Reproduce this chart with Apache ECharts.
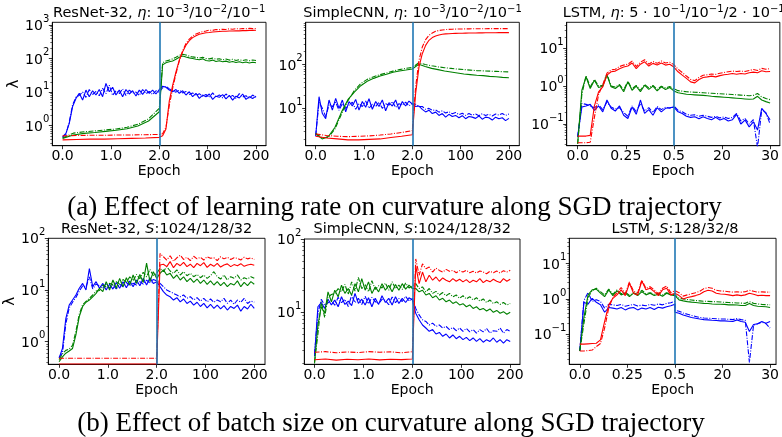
<!DOCTYPE html>
<html><head><meta charset="utf-8">
<script src="https://cdn.jsdelivr.net/npm/echarts@6/dist/echarts.min.js"></script>
<style>html,body{margin:0;padding:0;background:#fff}#c{width:782px;height:437px}</style>
</head><body><div id="c"></div>
<script>
// ---------- tick labels ----------
const cnnXTicks = ['0.0','1.0','2.0','100','200'];
const lstmXTicks = ['0.0','0.25','0.5','20','30'];
const panelTitles = [
  'ResNet-32, {i|η}: 10{s|−3}/10{s|−2}/10{s|−1}',
  'SimpleCNN, {i|η}: 10{s|−3}/10{s|−2}/10{s|−1}',
  'LSTM, {i|η}: 5 · 10{s|−1}/10{s|−1}/2 · 10{s|−1}',
  'ResNet-32, {i|S}:1024/128/32',
  'SimpleCNN, {i|S}:1024/128/32',
  'LSTM, {i|S}:128/32/8'
];
const captionA = '(a) Effect of learning rate on curvature along SGD trajectory';
const captionB = '(b) Effect of batch size on curvature along SGD trajectory';

// ---------- data: each series = [first-phase values, second-phase values] ----------
// Panel 1: ResNet-32, learning rate
const p1BlueS = [[0.47,0.59,1.17,3.7,6.5,9.2,5.8,11.5,7.3,11,8.2,12,7.3,18.3,10.3,14,8.2,11.5,7.3,12,8.8,11,7.7,11.5,8.6,12,9.2,11.5,8.8,12],
 [12,15,14,11.5,10.3,12,9.2,11,8.2,10.3,7.3,9.2,6.5,8.2,7.3,8.8,6.1,7.6,7,8.4,6.3,8,5.8,7.6,6.7,8.8,6.1,7.3,6.5,7.6]];
const p1BlueD = [[0.45,0.55,1.3,4.2,7,8,10,7,12,8.5,10.5,7.8,13,9,16,8,11,9,12.5,8,11.5,9.5,10,8,12,9,10.5,8.5,11,10],
 [10,13.5,15,12.5,11,10,11.5,9.5,10.5,8.5,9.5,8,9,7.5,8.5,7,9.5,7.2,8.3,6.8,8.8,7,8,6.5,9,7.2,7.8,6.6,8.2,7]];
const p1GreenS = [[0.42,0.53,0.59,0.63,0.68,0.73,0.81,0.98,1.38,2.6],
 [2.6,65,75,80,85,95,110,120,112,105,100,95,92,98,88,85,90,82,86,80,84,78,82,76,80,75,79,74,78,75]];
const p1GreenD = [[0.43,0.6,0.66,0.7,0.75,0.8,0.9,1.1,1.6,3.3],
 [3.3,75,85,90,98,110,125,135,128,118,112,108,104,110,100,98,103,95,99,92,97,90,95,88,93,87,92,86,91,88]];
const p1RedS = [[0.38,0.39,0.4,0.4,0.41,0.42,0.43,0.45],
 [0.45,0.5,0.8,5.5,16,40,90,160,250,340,420,480,530,560,590,600,620,630,640,650,650,660,660,670,670,680,680,690,690,700]];
const p1RedD = [[0.5,0.51,0.52,0.52,0.53,0.53,0.54,0.55],
 [0.55,0.58,0.9,4,13,35,85,170,280,380,470,540,590,630,660,700,690,730,720,750,735,770,750,780,760,790,770,800,780,790]];

// Panel 2: SimpleCNN, learning rate
const p2BlueS = [[2.3,18.5,7.6,5.8,15.5,9.1,16.9,10,15.5,8.3,14.3,11.3,16,9.1,14.3,10.6,16.6,9.5,14.3,11,15.5,8.8,13.5,11.3,15.5,9.5,14.3,11.3,14.7,12.6],
 [12.6,11,11.3,9.5,8.3,9.1,7.6,8.2,6.9,7.6,6.3,7.3,6.5,6.9,6.1,6.8,5.8,6.5,6.3,5.9,6.7,5.65,6.3,6.1,5.4,6.3,5.8,6.1,5.25,5.9]];
const p2BlueD = [[2.4,13.8,10,6.5,11.9,11,13.8,9,12.8,10,11.9,13.8,9.5,12.8,11,14.7,10,12.4,11,13.8,10,12.8,11.9,14.3,10.5,12.8,11.9,13.8,11.4,12.8],
 [12.8,12.4,11,11,9.5,10,9,9.2,8.2,8.8,7.8,8.4,7.5,8,7.2,7.7,6.9,7.6,7,7.4,6.8,7.5,6.9,7.3,6.7,7.4,7,7.6,6.9,7.4]];
const p2GreenS = [[2.6,2.0,2.3,3.7,8.2,15.8,23.6,33,41.5,48.5,54.8,60,66.7,71.5,75.2,79.3],
 [79.3,102,91,82,77,71.5,67.8,64.3,61,59,57,56,54,53,51,50]];
const p2GreenD = [[2.7,2.1,2.2,3.4,7.4,15,25.5,37,46,53,59,64.5,71,77,82,86],
 [86,110,101,94,89,85,82,79,77,75,73,72,71,70,69,68]];
const p2RedS = [[2.3,2.1,2.0,1.9,1.9,1.95,2.0,2.15,2.3,2.5],
 [2.5,22,88,178,276,360,415,452,478,496,505,510,515,518,520,522,525,527,528,530,532,533,534,535,536,537,538,539,540,540]];
const p2RedD = [[2.6,2.4,2.3,2.25,2.3,2.35,2.45,2.6,2.8,3.1],
 [3.1,31,125,253,373,468,528,578,605,620,632,640,645,650,652,655,657,658,660,661,662,663,664,665,665,666,666,667,667,667]];

// Panel 3: LSTM, learning rate
const p3RedS = [[0.048,0.048,0.048,0.05,0.3,0.71,0.96,1.95,2.4,2.5,2.9,3.2,3.4,4.1,2.9,3.8,4.4,3.4,4.0,3.6,4.1,3.6,3.8,3.2],
 [3.2,2.4,1.95,1.6,1.3,1.22,1.5,1.7,1.76,1.84,1.76,1.9,2.0,2.07,2.16,2.07,2.16,2.1,2.25,2.35,2.25,2.54,2.4,2.45]];
const p3RedD = [[0.032,0.032,0.032,0.033,0.15,0.6,1.1,2.2,2.7,2.8,3.3,3.6,3.8,4.6,3.3,4.3,5.0,3.8,4.5,4.0,4.6,4.1,4.3,3.7],
 [3.7,2.8,2.3,1.85,1.5,1.4,1.7,1.95,2.0,2.1,2.05,2.2,2.3,2.4,2.5,2.45,2.5,2.45,2.6,2.75,2.6,2.95,2.8,2.9]];
const p3GreenS = [[0.03,0.78,1.76,0.87,1.44,0.92,1.0,1.95,0.96,0.87,1.06,0.71,1.3,0.78,1.0,0.71,1.06,0.82,1.0,0.75,0.96,0.82,0.92,0.75],
 [0.75,0.67,0.64,0.61,0.6,0.59,0.58,0.57,0.56,0.54,0.53,0.52,0.51,0.5,0.49,0.48,0.47,0.46,0.45,0.46,0.54,0.43,0.39,0.36]];
const p3GreenD = [[0.03,0.6,1.9,0.95,1.5,1.0,1.05,2.1,1.0,0.95,1.1,0.8,1.35,0.85,1.05,0.78,1.1,0.9,1.05,0.82,1.0,0.9,0.98,0.85],
 [0.85,0.76,0.74,0.71,0.7,0.69,0.68,0.67,0.66,0.65,0.64,0.63,0.62,0.61,0.6,0.59,0.58,0.57,0.56,0.57,0.64,0.52,0.47,0.44]];
const p3BlueS = [[0.048,0.28,0.3,0.33,0.23,0.3,0.21,0.43,0.26,0.22,0.3,0.17,0.14,0.28,0.18,0.43,0.19,0.24,0.17,0.27,0.21,0.26,0.27,0.28],
 [0.28,0.21,0.19,0.16,0.15,0.155,0.137,0.155,0.14,0.13,0.15,0.127,0.14,0.12,0.13,0.18,0.1,0.127,0.084,0.114,0.069,0.26,0.19,0.13]];
const p3BlueD = [[0.045,0.35,0.33,0.3,0.27,0.32,0.24,0.38,0.28,0.25,0.27,0.2,0.16,0.3,0.21,0.35,0.22,0.27,0.2,0.29,0.24,0.28,0.26,0.3],
 [0.3,0.23,0.21,0.18,0.17,0.175,0.16,0.17,0.16,0.15,0.16,0.145,0.155,0.14,0.15,0.19,0.12,0.14,0.1,0.13,0.024,0.24,0.2,0.1]];

// Panel 4: ResNet-32, batch size
const p4BlueS = [[0.48,0.74,2.8,5.1,6.4,8,10.8,13.4,10,26,11.6,14.5,10.8,13.4,10,12.9,10.4,14,10.8,14.5,11.1,14.9,11.6,15.6,12.1,16.8,12.5,17.3,13.4,14.5],
 [14.5,11.6,9.3,8,7.4,6.4,7.1,5.9,6.7,5.5,6.1,5.1,5.8,4.8,5.5,4.5,5.3,4.4,5.1,4.3,5.0,4.1,4.8,4.4,5.1,3.9,4.8,4.3,5.3,4.4]];
const p4BlueD = [[0.5,0.6,2.2,4.5,5.8,7.2,9.5,12,11.5,18,10.5,13,12,11,13.5,11,12.5,10.5,13,11.5,14,12,13.5,12.5,14.5,13,15.5,13.5,16,15],
 [15,13.4,11.6,10,9.3,8.6,8,7.4,8,6.9,7.4,6.4,7.1,6.1,6.9,5.9,6.7,5.8,6.4,5.9,6.9,5.5,6.4,5.3,6.4,5.8,6.9,5.5,6.1,5.8]];
const p4GreenS = [[0.41,0.51,0.6,0.66,0.74,1.35,3.05,4.8,5.8,6.4,7.4,8.6,10.8,9.3,14.5,10,15.6,10.8,16.8,11.6,17.3,12.5,19.5,13.4,20,14,33,14.5,22.6,16.8],
 [16.8,21,24.5,19.5,21,16.8,19.5,15.6,18,14.5,16.8,14,16.3,13.4,15.6,12.9,15,12.5,14.5,12.1,14,11.6,13.4,12.5,15,11.6,14,12.1,14.5,12.9]];
const p4GreenD = [[0.45,0.58,0.68,0.72,0.85,1.6,3.4,5.2,6.0,6.9,8.0,9.5,9.8,12.5,11.5,13.5,12.5,14.5,13,16,14,18,15,20,16.5,22,18,25,19,21],
 [21,26.2,22.6,28.3,23.3,21,24.5,19.5,22.6,18.9,21,18.1,20,17.3,19.5,16.8,18.9,22.6,18.1,16.3,19.5,15.6,18.1,16.8,19.5,15.6,17.3,16.3,18.1,16.8]];
const p4RedS = [[0.37,0.37,0.37,0.37,0.37],
 [0.37,30.5,31.5,28.3,35.4,27,32.8,29.5,34.3,28.3,31.5,27,32.8,29.5,33.8,27.4,31.5,28.7,32.8,27.8,30.5,32,28.3,31,29.5,32.3,28.7,30.5,31.5,30]];
const p4RedD = [[0.48,0.48,0.48,0.48,0.48],
 [0.48,51,44,38,46,36,42,47,39,43,37,45,40,43,38,44,41,42,37,44,40,43,39,42,41,38,43,40,42,39]];

// Panel 5: SimpleCNN, batch size
const p5BlueS = [[2.5,11.9,13.6,11.3,15.1,12.6,14.7,11.9,16.3,12.8,14.2,12.3,18.1,13.2,15.1,12.6,15.8,11.9,15.5,12.8,16.8,13.6,15.5,12.6,16.3,13.2,15.5,13.6,15.8,14.7],
 [14.7,9.7,7.9,6.7,6.1,5.5,5.8,5.05,5.3,4.7,5.05,4.46,4.9,4.36,4.7,4.23,4.55,4.1,4.46,4.0,4.36,3.9,4.23,4.0,4.46,3.9,4.23,3.8,4.23,4.0]];
const p5BlueD = [[2.7,9.5,15,12.5,13.5,14.5,12.5,16,13.5,15,12,17,13.5,15.5,12.8,16.5,13,16,14,13,15,14.5,12.7,16.2,13.5,15.5,14,16.5,14.2,15.5],
 [15.5,11.3,9.2,7.9,7.5,6.7,7.1,6.4,6.7,6.1,6.4,5.8,6.2,5.6,6.1,5.5,6.0,5.4,5.8,5.2,5.8,5.4,6.0,5.2,5.6,5.5,6.1,5.2,5.8,5.5]];
const p5GreenS = [[2.0,6.7,11.9,9.7,19,13.9,20,16.3,23.4,18.1,21.1,17.1,24.6,19,28.8,20,26,18.1,22.2,19,24.6,20,23.4,19,24,20,24.6,20.7,23.4,21.1],
 [21.1,21.1,19,20,17.2,18.1,15.8,16.8,14.7,15.5,13.9,14.7,13.2,13.9,12.6,13.1,11.9,12.6,11.3,11.9,10.8,11.3,10.4,11.1,10,10.6,9.7,10.2,9.4,10]];
const p5GreenD = [[2.1,5,14,8.5,16,17.5,18,21,19,24,17.5,26,19.5,30,21,24,19,27,20.5,23,21.5,25,20,26,21,23.5,20.5,25,21.5,23],
 [23,24.6,21.1,22.2,19,21.1,18.1,19.3,17.2,18.6,16.8,18.1,16.3,17.2,15.5,16.8,15.2,16.3,14.7,15.8,14.2,15.2,13.6,14.7,13.2,13.9,12.8,13.6,12.6,13.2]];
const p5RedS = [[2.25,2.3,2.22,2.28,2.25,2.3,2.24,2.28,2.26,2.3],
 [2.3,43,24.6,35.4,26,32,27.4,30.3,26.5,29.4,27.4,26,28.8,26.5,28.2,26,27.9,25.4,27.4,26,28.8,25.4,27.4,26,28.2,26.5,25.4,28.8,26.5,28.2]];
const p5RedD = [[2.85,2.9,2.8,2.88,2.82,2.9,2.85,2.88,2.8,2.9],
 [2.9,53.5,32,45.8,39.3,41.4,35.4,40,37.3,35.4,38.5,36.2,37.4,34.7,37,35.4,37.4,34.7,36.2,34.3,36.6,35.4,33.6,36.2,34.7,36.6,34.3,37,35.4,37.4]];

// Panel 6: LSTM, batch size
const p6RedS = [[0.053,0.053,0.054,0.055,0.056,0.07,0.23,0.68,1.04,1.3,1.8,1.24,2.76,1.45,1.3,3.2,1.8,2.0,1.6,1.24,1.8,2.0,1.3,1.45],
 [1.45,1.24,1.0,1.09,1.16,1.24,1.35,1.6,1.75,1.68,1.45,1.38,1.35,1.3,1.24,1.3,1.24,1.3,1.45,1.35,1.24,1.27,1.24,1.24]];
const p6RedD = [[0.034,0.034,0.035,0.036,0.045,0.055,0.15,0.55,1.1,1.5,2.1,1.4,3.0,1.65,1.5,3.4,2.0,2.2,1.8,1.4,2.0,2.3,1.5,1.7],
 [1.7,1.5,1.2,1.3,1.4,1.5,1.65,1.95,2.1,2.0,1.75,1.68,1.65,1.6,1.55,1.6,1.55,1.6,1.75,1.65,1.55,1.58,1.55,1.55]];
const p6GreenS = [[0.034,0.3,1.3,1.8,1.9,1.45,1.16,1.8,1.24,1.68,1.3,1.45,1.16,1.45,1.24,1.6,1.3,1.45,1.24,1.35,1.19,1.45,1.3,1.24],
 [1.24,0.94,0.88,0.84,0.81,0.79,0.77,0.75,0.74,0.72,0.71,0.71,0.7,0.68,0.68,0.67,0.65,0.65,0.74,0.65,0.62,0.61,0.6,0.57]];
const p6GreenD = [[0.034,0.2,1.1,1.7,2.0,1.6,1.3,1.9,1.35,1.8,1.4,1.55,1.25,1.5,1.35,1.75,1.4,1.5,1.35,1.45,1.3,1.5,1.35,1.3],
 [1.3,1.05,1.0,0.96,0.93,0.9,0.88,0.86,0.85,0.84,0.83,0.82,0.8,0.79,0.78,0.77,0.76,0.75,0.84,0.75,0.72,0.7,0.69,0.68]];
const p6BlueS = [[0.034,0.8,0.71,1.04,0.8,0.68,0.42,0.57,0.55,0.52,0.57,0.49,0.55,0.57,0.49,0.55,0.52,0.57,0.5,0.58,0.55,0.6,0.64,0.71],
 [0.42,0.395,0.35,0.325,0.3,0.285,0.27,0.26,0.256,0.25,0.245,0.24,0.24,0.235,0.23,0.256,0.23,0.22,0.12,0.19,0.2,0.23,0.206,0.23]];
const p6BlueD = [[0.034,0.9,1.5,0.85,0.95,0.85,0.55,0.7,0.68,0.65,0.7,0.62,0.66,0.7,0.63,0.67,0.64,0.7,0.66,0.72,0.68,0.75,0.78,0.85],
 [0.48,0.45,0.4,0.37,0.34,0.32,0.3,0.29,0.285,0.28,0.275,0.27,0.27,0.265,0.26,0.28,0.26,0.25,0.016,0.18,0.2,0.22,0.2,0.15]];

const panelSeries = [
  [p1BlueS,p1BlueD,p1GreenS,p1GreenD,p1RedS,p1RedD],
  [p2BlueS,p2BlueD,p2GreenS,p2GreenD,p2RedS,p2RedD],
  [p3BlueS,p3BlueD,p3GreenS,p3GreenD,p3RedS,p3RedD],
  [p4BlueS,p4BlueD,p4GreenS,p4GreenD,p4RedS,p4RedD],
  [p5BlueS,p5BlueD,p5GreenS,p5GreenD,p5RedS,p5RedD],
  [p6BlueS,p6BlueD,p6GreenS,p6GreenD,p6RedS,p6RedD]
];
const xTickSets = [cnnXTicks,cnnXTicks,lstmXTicks,cnnXTicks,cnnXTicks,lstmXTicks];

// ---------- layout (pixels) ----------
const layout = [
  {l:52.3,t:22.3,w:213.7,h:123.4,xr:[-0.213,4.207],yr:[-0.595,3.08],ty:13.5,lam:true},
  {l:305.7,t:22.3,w:213.6,h:123.4,xr:[-0.207,4.215],yr:[0.146,2.968],ty:13.5},
  {l:566.7,t:22.3,w:214,h:123.4,xr:[-0.228,4.203],yr:[-1.573,1.687],ty:13.5},
  {l:48.3,t:238.3,w:216.7,h:126,xr:[-0.221,4.22],yr:[-0.437,2.0],ty:229,lam:true},
  {l:304.3,t:239,w:215.7,h:125.3,xr:[-0.209,4.2],yr:[0.29,2.0],ty:229},
  {l:569.3,t:238.3,w:211.4,h:126,xr:[-0.22,4.125],yr:[-1.845,1.71],ty:229}
];
const colors = ['#0000ff','#0000ff','#008000','#008000','#ff0000','#ff0000'];
const FONT = 'DejaVu Sans';

function toPoints(sec){
  const [a,b] = sec, pts = [];
  a.forEach((v,i)=>pts.push([2*i/(a.length-1), v]));
  b.forEach((v,j)=>pts.push([2+2*j/(b.length-1), v]));
  return pts;
}
function supNum(e){ return e < 0 ? '−' + (-e) : String(e); }

const grids=[], xAxes=[], yAxes=[], series=[], graphics=[];
layout.forEach((L,g)=>{
  grids.push({left:L.l, top:L.t, width:L.w, height:L.h, show:true, borderColor:'#000', borderWidth:0.9, containLabel:false});
  const xt = xTickSets[g];
  xAxes.push({type:'value', gridIndex:g, min:L.xr[0], max:L.xr[1],
    name:'Epoch', nameLocation:'middle', nameGap:18,
    nameTextStyle:{fontFamily:FONT, fontSize:14, color:'#000'},
    axisLine:{show:true, onZero:false, lineStyle:{color:'#000', width:0.9}},
    axisTick:{show:true, length:3.5, customValues:[0,1,2,3,4], lineStyle:{color:'#000', width:0.8}},
    axisLabel:{customValues:[0,1,2,3,4], margin:4, fontFamily:FONT, fontSize:14, color:'#000',
      formatter:(v)=>xt[Math.round(v)]},
    splitLine:{show:false}});
  const ymin = Math.pow(10,L.yr[0]), ymax = Math.pow(10,L.yr[1]);
  const majors=[], minors=[];
  for(let e=Math.floor(L.yr[0]); e<=Math.ceil(L.yr[1]); e++){
    if(e>=L.yr[0]-1e-9 && e<=L.yr[1]+1e-9) majors.push(Math.pow(10,e));
    for(let k=2;k<=9;k++){const lv=Math.log10(k)+e; if(lv>L.yr[0] && lv<L.yr[1]) minors.push(k*Math.pow(10,e));}
  }
  yAxes.push({type:'log', logBase:10, gridIndex:g, min:ymin, max:ymax,
    name: L.lam ? 'λ' : '', nameLocation:'middle', nameGap:31, nameRotate:90,
    nameTextStyle:{fontFamily:FONT, fontSize:15, color:'#000'},
    axisLine:{show:true, onZero:false, lineStyle:{color:'#000', width:0.9}},
    axisTick:{show:true, length:3.5, customValues:majors, lineStyle:{color:'#000', width:0.8}},
    axisLabel:{customValues:majors, margin:3, color:'#000',
      formatter:(v)=>'{m|10}{s|'+supNum(Math.round(Math.log10(v)))+'}',
      rich:{m:{fontFamily:FONT, fontSize:14, color:'#000', padding:[3,0,0,0]},
            s:{fontFamily:FONT, fontSize:10, color:'#000', padding:[0,0,12,0]}}},
    splitLine:{show:false}});
  // minor ticks axis
  yAxes.push({type:'log', logBase:10, gridIndex:g, min:ymin, max:ymax, position:'left',
    axisLine:{show:false, onZero:false}, axisLabel:{show:false}, splitLine:{show:false},
    axisTick:{show:true, length:2, customValues:minors, lineStyle:{color:'#000', width:0.6}}});
  panelSeries[g].forEach((sec,k)=>{
    const s = {type:'line', xAxisIndex:g, yAxisIndex:2*g, data:toPoints(sec), showSymbol:false, symbol:'none',
      silent:true, animation:false, z:2+k,
      lineStyle:{color:colors[k], width:1.1, type: k%2===0 ? 'solid' : [5,1.5,1,1.5]}};
    if(k===0){
      s.markLine = {silent:true, symbol:'none', animation:false, label:{show:false}, z:20,
        lineStyle:{color:'#1f77b4', width:1.6, type:'solid'}, data:[{xAxis:2}]};
    }
    series.push(s);
  });
  graphics.push({type:'text', x:L.l+L.w/2, y:L.ty, z:50,
    style:{text:panelTitles[g], align:'center', verticalAlign:'middle', fill:'#000',
      fontFamily:FONT, fontSize:14.5,
      rich:{i:{fontFamily:FONT, fontSize:14.5, fontStyle:'italic'},
            s:{fontFamily:FONT, fontSize:10, padding:[0,0,9,0]}}}});
});

// captions sized to the reference width
const SERIF = 'Liberation Serif';
const meas = document.createElement('canvas').getContext('2d');
meas.font = '20px "' + SERIF + '"';
const capSize = 20 * 655 / meas.measureText(captionA).width;
graphics.push({type:'text', x:394.5, y:207.5, style:{text:captionA, align:'center', verticalAlign:'middle', fill:'#000', fontFamily:SERIF, fontSize:capSize}});
graphics.push({type:'text', x:391, y:423.5, style:{text:captionB, align:'center', verticalAlign:'middle', fill:'#000', fontFamily:SERIF, fontSize:capSize}});

const chart = echarts.init(document.getElementById('c'), null, {renderer:'canvas'});
chart.setOption({
  animation:false, backgroundColor:'#fff',
  textStyle:{fontFamily:FONT},
  grid:grids, xAxis:xAxes, yAxis:yAxes, series:series, graphic:graphics
});
</script></body></html>
